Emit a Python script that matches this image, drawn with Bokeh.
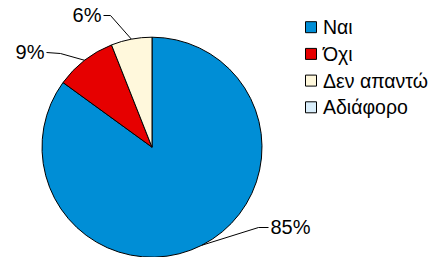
import math
from bokeh.plotting import figure
from bokeh.models import Range1d, ColumnDataSource
from bokeh.core.properties import value
from bokeh.embed import file_html
from bokeh.resources import INLINE

# ---- data ----
categories = ["Ναι", "Όχι", "Δεν απαντώ", "Αδιάφορο"]
percentages = [85, 9, 6, 0]
colors = ["#008ED6", "#E60000", "#FFF8DC", "#D9EEFB"]

# ---- layout ----
W, H = 437, 257
SCALE = 110.0          # px per data unit (pie radius = 1)
CX, CY = 151.5, 146.7  # pie centre in page pixels
OFF = 0

def px(ix, iy):
    return (ix - CX) / SCALE, (CY - iy) / SCALE

x0 = (OFF - CX) / SCALE
x1 = (OFF + W - CX) / SCALE
y1 = (CY - OFF) / SCALE
y0 = (CY - OFF - H) / SCALE

p = figure(width=W, height=H, output_backend="svg", toolbar_location=None,
           x_range=Range1d(x0, x1), y_range=Range1d(y0, y1), min_border=0,
           outline_line_color=None)
p.axis.visible = False
p.grid.visible = False
p.background_fill_color = "white"

total = sum(percentages)
starts, ends, cols, mids = [], [], [], []
a = math.pi / 2
for v, c in zip(percentages, colors):
    span = 2 * math.pi * v / total
    if v > 0:
        starts.append(a)
        ends.append(a - span)
        cols.append(c)
    mids.append(a - span / 2)
    a -= span

src = ColumnDataSource(dict(s=starts, e=ends, c=cols))
p.wedge(x=0, y=0, radius=1, start_angle="s", end_angle="e", direction="clock",
        fill_color="c", line_color="black", line_width=1, source=src)

# leader lines + labels: elbow and end points in page pixels
label_layout = {
    0: ((258, 227), (268, 227)),
    1: ((60, 53), (46, 52)),
    2: ((110, 15), (103, 15)),
}
for i, ((ex, ey), (tx, ty)) in label_layout.items():
    m = mids[i]
    sx, sy = math.cos(m), math.sin(m)
    exd, eyd = px(ex, ey)
    txd, tyd = px(tx, ty)
    p.line([sx, exd, txd], [sy, eyd, tyd], line_color="black", line_width=1)
    align = "left" if txd > exd else "right"
    gap = 2 / SCALE if align == "left" else -2 / SCALE
    p.text(x=[txd + gap], y=[tyd + 1 / SCALE], text=[f"{percentages[i]}%"],
           text_font=value("Liberation Sans"), text_font_size="20px",
           text_align=align, text_baseline="middle", text_color="black")

# legend
leg_x, leg_y0, leg_dy, box = 310.5, 26.7, 26.7, 11
for i, (cat, c) in enumerate(zip(categories, colors)):
    lx, ly = px(leg_x, leg_y0 + i * leg_dy)
    p.rect(x=[lx], y=[ly], width=box / SCALE, height=box / SCALE,
           fill_color=c, line_color="black", line_width=1)
    tx, ty = px(leg_x + 12, leg_y0 + i * leg_dy)
    p.text(x=[tx], y=[ty], text=[cat], text_font=value("Liberation Sans"),
           text_font_size="19.5px", text_align="left", text_baseline="middle",
           text_color="black")

open("out.html", "w").write(file_html(p, INLINE))
